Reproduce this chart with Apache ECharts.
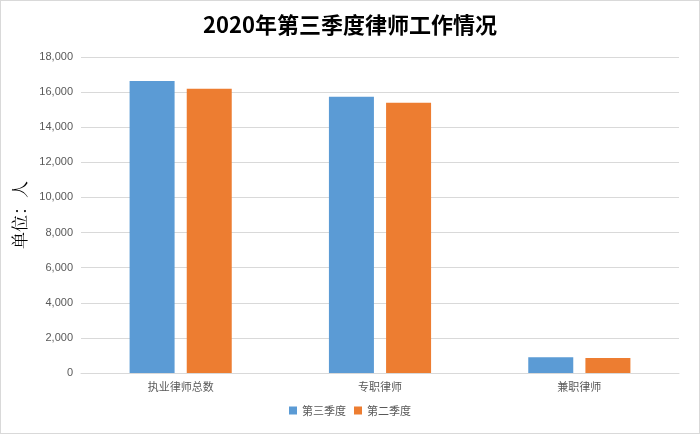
<!DOCTYPE html><html><head><meta charset="utf-8"><script src="https://cdn.jsdelivr.net/npm/echarts@6/dist/echarts.min.js"></script>
<style>html,body{margin:0;padding:0;background:#fff}#c{width:698px;height:432px;border:1px solid #d9d9d9}</style></head><body><div id="c"></div><script>
const categories=['执业律师总数','专职律师','兼职律师'];
const q3=[16640,15730,900];
const q2=[16190,15390,850];
const chart=echarts.init(document.getElementById('c'));
chart.setOption({
title:{text:'2020年第三季度律师工作情况',left:'center',top:8,textStyle:{fontSize:22,fontWeight:'bold',color:'#000',fontFamily:'Noto Sans CJK SC'}},
legend:{bottom:12,itemWidth:8,itemHeight:8,icon:'rect',itemGap:8,textStyle:{fontSize:11,color:'#595959',fontFamily:'Noto Sans CJK SC'}},
grid:{left:80,right:20,top:56,bottom:60},
xAxis:{type:'category',data:categories,axisTick:{show:false},axisLine:{lineStyle:{color:'#d9d9d9'}},axisLabel:{color:'#595959',fontSize:11,fontFamily:'Noto Sans CJK SC'}},
yAxis:{type:'value',min:0,max:18000,interval:2000,name:'单位：人',nameLocation:'middle',nameGap:45,nameTextStyle:{fontSize:17,color:'#000',fontFamily:'Noto Serif CJK SC, serif'},axisLabel:{color:'#595959',fontSize:11},splitLine:{lineStyle:{color:'#d9d9d9'}}},
series:[{name:'第三季度',type:'bar',data:q3,barWidth:45,barGap:'27%',itemStyle:{color:'#5B9BD5'}},
{name:'第二季度',type:'bar',data:q2,barWidth:45,itemStyle:{color:'#ED7D31'}}]
});
</script></body></html>
